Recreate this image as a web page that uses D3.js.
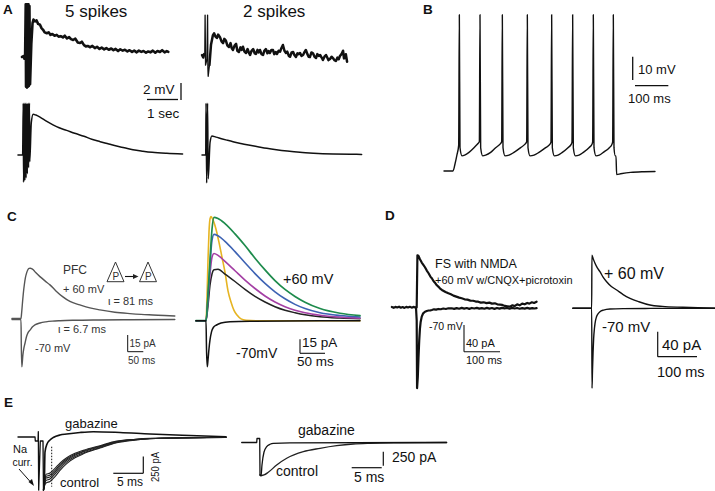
<!DOCTYPE html>
<html><head><meta charset="utf-8">
<script src="https://cdn.jsdelivr.net/npm/d3@7"></script>
<style>
html,body{margin:0;padding:0;background:#fff;}
svg{display:block;}
text{font-family:"Liberation Sans",Arial,Helvetica,sans-serif;fill:#111;}
</style>
</head><body>
<svg id="fig" width="715" height="491"></svg>
<script>
// ================= DATA =================
// Panel A: [time (s), voltage (mV)]
const a5Top = [[0,0],[0.05,0.1],[0.08,-0.2],[0.1,0],[0.12,6.2],[0.13,-3.5],[0.15,6.2],[0.16,-3.6],[0.18,6.2],[0.19,-3.5],[0.21,6.2],[0.22,-3.4],[0.24,6.0],[0.26,-3.2],
 [0.3,1.5],[0.34,4.0],[0.37,4.4],[0.42,4.2],[0.47,4.3],[0.52,3.9],[0.58,3.8],[0.63,3.4],[0.68,3.2],[0.73,2.9],[0.8,2.8],[0.86,2.9],[0.92,2.6],[0.98,2.7],[1.05,2.5],[1.12,2.6],[1.18,2.4],[1.25,2.45],[1.32,2.3],[1.38,2.5],[1.45,2.2],[1.52,2.35],[1.58,2.1],[1.65,2.0],[1.72,2.15],[1.8,1.7],[1.87,1.65],[1.93,1.8],[2.0,1.4],[2.06,1.25],[2.12,1.3],[2.2,1.15],[2.27,1.3],[2.35,1.05],[2.42,1.2],[2.5,0.95],[2.57,1.1],[2.65,0.9],[2.72,1.05],[2.8,0.85],[2.88,1.0],[2.95,0.8],[3.02,0.95],[3.1,0.7],[3.17,0.9],[3.25,0.75],[3.32,0.85],[3.4,0.65],[3.47,0.8],[3.55,0.6],[3.62,0.75],[3.7,0.55],[3.77,0.75],[3.85,0.6],[3.92,0.7],[4.0,0.5],[4.07,0.65],[4.15,0.55],[4.22,0.75],[4.3,0.5],[4.37,0.7],[4.45,0.6],[4.52,0.8],[4.6,0.55],[4.67,0.7],[4.72,0.6]];
const a2Top = [[0,0],[0.04,-0.3],[0.07,0.1],[0.09,0],[0.1,4.7],[0.115,-1.2],[0.16,-0.5],[0.18,4.7],[0.19,-1.5],[0.2,-2.5],[0.24,-1.2],[0.29,1.2],[0.35,2.3],[0.39,2.55],[0.43,2.2],[0.48,2.0],[0.52,2.4],[0.58,2.1],[0.63,1.6],[0.68,1.4],[0.72,1.9],[0.77,1.7],[0.82,1.1],[0.87,0.94],[0.92,1.4],[0.96,0.8],[1.0,0.6],[1.05,1.1],[1.1,1.3],[1.14,0.5],[1.19,0.35],[1.24,0.9],[1.28,0.6],[1.32,0.98],[1.37,0.4],[1.42,0.24],[1.47,0.7],[1.51,0.3],[1.55,0],[1.6,0.5],[1.65,0.7],[1.7,0.2],[1.74,0.12],[1.79,0.6],[1.83,0.3],[1.87,0.59],[1.92,0.1],[1.97,0],[2.01,0.5],[2.06,0.7],[2.11,0.2],[2.15,0.45],[2.19,0.24],[2.24,0.6],[2.29,0.59],[2.33,0.1],[2.38,0.35],[2.42,0.12],[2.47,0.5],[2.52,0.39],[2.56,0.8],[2.61,1.18],[2.66,0.5],[2.71,0.24],[2.75,0.4],[2.8,-0.1],[2.84,-0.2],[2.89,0.3],[2.94,0.35],[2.98,0.0],[3.03,-0.24],[3.08,0.2],[3.12,0.1],[3.16,0.24],[3.21,-0.1],[3.26,0],[3.3,0.3],[3.35,0.59],[3.4,0.1],[3.44,-0.2],[3.48,-0.24],[3.53,0.3],[3.58,0.2],[3.63,-0.2],[3.68,-0.35],[3.72,0.1],[3.77,-0.1],[3.81,0],[3.86,-0.3],[3.9,-0.59],[3.95,-0.2],[4.0,0],[4.04,-0.3],[4.08,-0.6],[4.13,-0.47],[4.18,-0.2],[4.23,-0.39],[4.27,-0.6],[4.32,-0.7],[4.37,-0.3],[4.41,-0.5],[4.45,-0.12],[4.5,0.1],[4.55,0.5],[4.58,-0.4],[4.61,-0.35],[4.64,0.1],[4.68,-0.79]];
const a5Model = [[-0.13,0],[0.02,0],[0.04,6.1],[0.05,-3.2],[0.08,6.1],[0.09,-3.0],[0.12,6.1],[0.13,-2.7],[0.16,6.1],[0.17,-2.2],[0.2,6.1],[0.21,-1.5],[0.24,6.1],[0.25,-0.8],[0.3,3.8],[0.36,4.8],[0.45,4.7],[0.58,4.45],[0.8,3.95],[1.0,3.55],[1.2,3.2],[1.44,2.9],[1.7,2.55],[2.0,2.2],[2.25,1.85],[2.52,1.57],[2.8,1.3],[3.05,1.05],[3.3,0.85],[3.58,0.62],[3.9,0.45],[4.2,0.32],[4.67,0.2],[5.18,0.12]];
const a2Model = [[0,0],[0.12,0],[0.13,6.1],[0.15,-3.3],[0.18,6.1],[0.2,-2.8],[0.26,1.5],[0.32,2.24],[0.45,2.1],[0.6,1.95],[0.8,1.75],[1.0,1.56],[1.25,1.36],[1.5,1.18],[1.8,0.98],[2.09,0.79],[2.4,0.62],[2.75,0.46],[3.16,0.31],[3.6,0.21],[4.23,0.12],[4.8,0.08],[5.15,0.07]];

// Panel B: spike train, time (ms) and membrane potential (mV)
const bTime = [0,27,33,39,44, 46,48,54,62,75,90,100,106, 108,110,116,125,140,155,168,173, 175,177,183,195,210,230,243,248, 250,252,258,270,285,305,318,321, 323,325,331,342,355,372,382,384, 386,388,394,405,418,435,444,446, 448,450,456,466,478,496,504,506, 508,510,514,516,518,530,560,600,633];
const bVolt = [-70,-70,-67,-63,-59,
 -3,-60,-63.5,-63.2,-62,-60,-58.5,-57.5,
 -3,-60,-63.5,-63.2,-62,-60,-58.5,-57.5,
 -3,-60,-63.5,-63.2,-62,-60,-58.5,-57.5,
 -3,-60,-63.5,-63.2,-62,-60,-58.5,-57.5,
 -3,-60,-63.5,-63.2,-62,-60,-58.5,-57.5,
 -3,-60,-63.5,-63.2,-62,-60,-58.5,-57.5,
 -3,-60,-63.5,-63.2,-62,-60,-58.5,-57.5,
 -3,-60,-63.5,-63.5,-71.5,-71.2,-70.6,-70.3,-70.2];

// Panel C left (PFC recording): [time (ms), current (pA)]
const cPfcPlus60 = [[-29,0],[0,0],[2,5],[5,15],[8,24],[11,31],[14,36.5],[18,41],[22,43.8],[26,45],[30,45.2],[34,44.8],[39.4,43.7],[48,41],[60.8,37.6],[76.8,33.8],[92.8,30.2],[112,24.8],[134.4,19.4],[156.8,15.3],[188.8,12.2],[220.8,9.5],[252.8,7.7],[300.8,5.6],[348.8,4.4],[385,3.7],[422.4,3.2],[460,2.7],[493,2.3]];
const cPfcMinus70 = [[-29,-1],[0,-1],[1,-25],[2.5,-43.4],[4,-40],[6,-33],[9,-27],[13,-22],[18,-16],[23,-12.5],[29,-10.4],[37,-7.5],[46,-5.5],[61,-4],[80,-3],[100,-2.4],[125,-2],[170,-1.6],[250,-1.3],[350,-1.1],[493,-0.9]];

// Panel C right (model): shared time (ms) and four +60 mV curves
const cModelTime = [-20,0,4,8,12,16,24,38,58,78,98,118,138,158,178,198,228,268,308];
const cGreen   = [0,0,28,65,98,110.8,109.5,104,93,80.5,67,54.5,43,33.5,26,19.8,13,8,5.5];
const cBlue    = [0,0,26,60,86,92.5,91,85,74,62,50.5,40,31,23.5,17.5,13,8.5,5.5,4];
const cMagenta = [0,0,22,50,68,72,70,63.5,53.5,43.5,34.5,26.5,20,15,11.3,8.5,5.8,3.8,2.8];
const cBlack   = [0,0,16,38,50,54.5,55,50,42,33.5,26,20,15,11.2,8.5,6.3,4.2,2.8,2];
const cYellowTime = [-20,0,2,4,6,8,10,14,20,26,32,38,44,50,56,62,70,80,100,308];
const cYellow     = [0,0,25,65,95,109,111.5,108,98,84,68,52,32,20,11,6,2,0.5,0,0];
const cMinus70Time = [-20,0,1,2.6,4,6,8,11,15,21,30,48,88,308];
const cMinus70     = [0,0,-30,-49.3,-42,-30,-20.6,-12,-7,-4.6,-2.5,-1,-0.5,0];

// Panel D left (FS with NMDA, recorded): [time (ms), current (pA)]
const dRecPlus60 = [[-69,0.5],[-64,-0.8],[-59,0.6],[-54,-0.3],[-49,0.9],[-44,-0.6],[-39,0.4],[-34,-0.9],[-29,0.7],[-24,-0.2],[-19,0.8],[-14,-0.5],[-9,0.6],[-4,-0.4],[0,0],[2,78],[5,77],[9,72],[14,67],[18,64],[23,60],[28,55],[33,51],[38,46],[42,43.5],[47,39],[52,36],[56,33],[60,31],[65,28],[70,26],[75,24.5],[80,23],[88,21],[95,19.5],[102,17.5],[110,16],[118,14.5],[125,13.5],[133,12],[141,11.5],[149,10],[157,9.8],[164,8.6],[171,8.4],[178,7],[186,7.5],[194,6.2],[202,7],[209,5.5],[217,6],[224,4.5],[231,4],[238,3.5],[245,2],[252,1.5],[259,0.9],[266,3],[272,1.8],[279,4.5],[286,3],[293,5.5],[300,4.5],[307,6.5],[313,5.5],[320,7.5],[326,6.5],[333,8.4]];
const dRecMinus70 = [[-2,0],[0,-20],[1,-121],[3,-105],[5,-75],[7,-50],[9,-32],[11,-22],[14,-14],[18,-9],[23,-6.6],[28,-5.5],[33,-4.8],[38,-4.5],[42,-4],[48,-3],[54,-3.5],[60,-2.5],[67,-2.9],[74,-1.8],[81,-2.5],[88,-1.5],[97,-1.5],[104,-2.4],[111,-1.2],[118,-2.1],[125,-0.9],[132,-2],[139,-1.1],[146,-2.3],[153,-1],[160,-1.8],[167,-0.8],[174,-2],[181,-1.2],[188,-2.2],[195,-0.9],[202,-1.9],[209,-1.1],[216,-2.3],[223,-1],[230,-2],[237,-0.8],[244,-1.7],[251,-1.1],[258,-2.2],[265,-0.9],[272,-1.8],[279,-1],[286,-2.1],[293,-1.2],[300,-1.9],[307,-0.9],[314,-2],[321,-1.2],[327,-1.8],[333,-1.3]];
// Panel D right (model)
const dModPlus60 = [[-48,0],[0,0],[0.5,85],[4,79],[8.4,72],[14,65],[21,58.6],[29,50],[38,42.6],[50,35],[63.6,29.3],[80,22],[97.5,16],[120,10.5],[148,5.3],[180,3],[232,1.6],[270,0.8],[314,0.3]];
const dModMinus70 = [[-48,0],[0,0],[0.8,-128],[2,-100],[3.5,-70],[5,-48],[7,-32],[8.5,-24],[12,-14],[16,-9],[21,-5.4],[30,-2.8],[46.6,-1.1],[80,-0.5],[150,-0.2],[314,0]];

// Panel E left (recorded): [time (ms), current (pA)]
const eRecPre = [[-4.17,0],[-1.33,0],[-1.28,-60],[-0.83,-60],[-0.78,80],[-0.72,-795],[-0.45,-60],[0,-60],[0.08,-795]];
const eRecGabazine = [[0.08,-795],[0.22,-720],[0.33,-225],[0.67,-105],[1.17,-45],[1.72,-7.5],[2.83,30],[3.95,45],[6.17,67.5],[8.38,79.5],[12.83,67.5],[17.83,45],[24.5,22.5],[30.5,4.5]];
const eCtrlTime = [0.08,0.22,0.5,1.17,2.0,2.83,3.95,5.33,6.72,9.5,12.28,15.33,17.83,24.5,30.5];
const eCtrl1 = [-795,-700,-560,-540,-470,-390,-310,-245,-200,-130,-62,-33,-19,-9,-3];
const eCtrl2 = [-795,-710,-590,-570,-500,-415,-330,-260,-212,-138,-68,-37,-22,-11,-4];
const eCtrl3 = [-795,-720,-615,-600,-525,-440,-348,-272,-222,-146,-72,-39,-23,-12,-4];
const eCtrl4 = [-795,-730,-650,-630,-555,-468,-372,-292,-238,-157,-80,-43,-25,-12,-5];
const eCtrl5 = [-795,-740,-690,-665,-592,-500,-398,-312,-252,-166,-86,-46,-27,-13,-5];
// Panel E right (model)
const eModPre = [[-3.05,0],[-0.55,0],[-0.5,71],[-0.05,71],[0,-580]];
const eModGabazine = [[0,-580],[0.17,-598],[0.33,-402],[0.67,-170],[1.12,-75],[1.67,-32],[2.22,-14],[5,-5],[31.1,0]];
const eModControl = [[0,-580],[0.28,-589],[0.67,-580],[1.38,-532],[2.78,-402],[4.45,-282],[7.22,-164],[10,-104],[12.78,-57],[15.55,-27],[18.33,-14],[23.3,-5],[31.1,0]];

// ================= DRAWING =================
const svg = d3.select('#fig');
const lin = d3.scaleLinear;

function trace(data, xs, ys, color, width, curve) {
  const line = d3.line().x(d => xs(d[0])).y(d => ys(d[1])).curve(curve || d3.curveLinear);
  svg.append('path').attr('d', line(data)).attr('fill', 'none')
    .attr('stroke', color).attr('stroke-width', width)
    .attr('stroke-linejoin', 'round').attr('stroke-linecap', 'round');
}
function seg(x1, y1, x2, y2, w, extra) {
  const l = svg.append('line').attr('x1', x1).attr('y1', y1).attr('x2', x2).attr('y2', y2)
    .attr('stroke', '#111').attr('stroke-width', w || 1.3);
  if (extra) extra(l);
  return l;
}
function label(txt, x, y, size, opt) {
  opt = opt || {};
  const t = svg.append('text').attr('x', x).attr('y', y).attr('font-size', size).text(txt);
  if (opt.bold) t.attr('font-weight', 'bold');
  if (opt.w) t.attr('textLength', opt.w).attr('lengthAdjust', 'spacingAndGlyphs');
  if (opt.rot) t.attr('transform', `rotate(${opt.rot},${x},${y})`);
  if (opt.fill) t.style('fill', opt.fill);
  return t;
}
const smooth = d3.curveMonotoneX;

// ---- Panel A ----
const xA5 = lin([0, 1], [22, 53]), xA2 = lin([0, 1], [202, 233]);
const yA5 = lin([0, 2], [57, 40]), yA2 = lin([0, 2], [55, 38]);
const yAm = lin([0, 2], [155, 138]);
trace(a5Top, xA5, yA5, '#111', 2.6);
// 2-spike recording: thin spikes, thick noisy trace
trace(a2Top.slice(0, 4), xA2, yA2, '#111', 2.5);
trace(a2Top.slice(3, 11), xA2, yA2, '#111', 1.3);
trace(a2Top.slice(10), xA2, yA2, '#111', 2.5);
trace(a5Model, xA5, yAm, '#111', 1.5, smooth);
trace(a2Model, xA2, yAm, '#111', 1.5, smooth);
// scale bar A: 2 mV, 1 sec
seg(181, 83, 181, 83 + (yA5(0) - yA5(2)), 1.3);
seg(147, 99.5, 147 + (xA5(1) - xA5(0)), 99.5, 1.3);
label('5 spikes', 65, 17, 17);
label('2 spikes', 243, 17, 17);
label('2 mV', 143, 94, 13.5);
label('1 sec', 147, 118, 13.5);

// ---- Panel B ----
const xB = lin([0, 100], [444, 477.33]);
const yB = lin([-70, -60], [171, 147.67]);
trace(d3.zip(bTime, bVolt), xB, yB, '#111', 1.4, smooth);
seg(632.7, 56.7, 632.7, 56.7 + (yB(-70) - yB(-60)), 1.3);
seg(635, 85.7, 635 + (xB(100) - xB(0)), 85.7, 1.3);
label('10 mV', 638, 74, 13);
label('100 ms', 628, 103, 13);

// ---- Panel C left ----
const xC1 = lin([0, 50], [21, 36.6]);
const yC1 = lin([0, 15], [318.5, 301.8]);
trace(cPfcPlus60, xC1, yC1, '#555', 1.4, smooth);
trace(cPfcMinus70, xC1, yC1, '#555', 1.4, smooth);
seg(127.7, 351.7, 127.7, 351.7 - (yC1(0) - yC1(15)), 1);
seg(127.7, 351.7, 127.7 + (xC1(50) - xC1(0)), 351.7, 1);
label('PFC', 63, 274, 12, {fill: '#333'});
label('+ 60 mV', 63, 293, 11, {fill: '#333'});
label('\u03b9 = 81 ms', 108, 305, 11, {fill: '#333'});
label('\u03b9 = 6.7 ms', 58, 333, 11, {fill: '#333'});
label('-70 mV', 35, 352, 11, {fill: '#333'});
label('15 pA', 129.5, 347, 10, {fill: '#333'});
label('50 ms', 128, 364, 10, {fill: '#333'});
// pyramidal cell icons
function tri(cx) {
  svg.append('polygon').attr('points', `${cx},262 ${cx - 8.5},281.7 ${cx + 8.5},281.7`)
    .attr('fill', 'none').attr('stroke', '#333').attr('stroke-width', 1);
  label('P', cx - 3, 279.5, 10, {fill: '#333'});
}
tri(115.5); tri(148);
seg(125, 276.5, 134, 276.5, 1.1);
svg.append('polygon').attr('points', '138.5,276.5 133,274 133,279').attr('fill', '#222');

// ---- Panel C right ----
const xC2 = lin([0, 50], [206, 231]);
const yC2 = lin([0, 15], [320.7, 306.7]);
trace(d3.zip(cYellowTime, cYellow), xC2, yC2, '#e6b422', 1.6, smooth);
trace(d3.zip(cModelTime, cBlack), xC2, yC2, '#222', 1.5, smooth);
trace(d3.zip(cModelTime, cMagenta), xC2, yC2, '#a43fa4', 1.6, smooth);
trace(d3.zip(cModelTime, cBlue), xC2, yC2, '#3d62b3', 1.6, smooth);
trace(d3.zip(cModelTime, cGreen), xC2, yC2, '#1e8b4c', 1.7, smooth);
trace(d3.zip(cMinus70Time, cMinus70), xC2, yC2, '#111', 1.5, smooth);
seg(300, 353.3, 300, 353.3 - (yC2(0) - yC2(15)), 1.1);
seg(300, 353.3, 300 + (xC2(50) - xC2(0)), 353.3, 1.1);
label('+60 mV', 283, 284, 14.5);
label('-70mV', 236, 358, 14);
label('15 pA', 302, 347, 13.5);
label('50 ms', 297, 366, 13.5);

// ---- Panel D left ----
const xD1 = lin([0, 100], [416.7, 452.7]);
const yD1 = lin([0, 40], [307.3, 280.6]);
trace(dRecPlus60, xD1, yD1, '#111', 2.2);
trace(dRecMinus70, xD1, yD1, '#111', 2.2);
seg(464, 351.7, 464, 351.7 - (yD1(0) - yD1(40)), 1.1);
seg(464, 351.7, 464 + (xD1(100) - xD1(0)), 351.7, 1.1);
label('FS with NMDA', 435, 267.5, 12.5);
label('+60 mV w/CNQX+picrotoxin', 435, 284, 11);
label('-70 mV', 429, 330, 10.5);
label('40 pA', 466, 347, 11);
label('100 ms', 466, 364, 11);

// ---- Panel D right ----
const xD2 = lin([0, 100], [591.7, 631]);
const yD2 = lin([0, 40], [308.3, 283.3]);
trace(dModPlus60, xD2, yD2, '#111', 1.4, smooth);
trace(dModMinus70, xD2, yD2, '#111', 1.4, smooth);
seg(657.7, 356.7, 657.7, 356.7 - (yD2(0) - yD2(40)), 1.2);
seg(657.7, 356.7, 657.7 + (xD2(100) - xD2(0)), 356.7, 1.2);
label('+ 60 mV', 604, 278.5, 16);
label('-70 mV', 602, 332, 15);
label('40 pA', 662, 350, 15);
label('100 ms', 657, 377, 14.5);

// ---- Panel E left ----
const xE1 = lin([0, 5], [43, 73]);
const yE1 = lin([0, 250], [437, 420.3]);
trace(eRecPre, xE1, yE1, '#111', 1.3);
[eCtrl1, eCtrl2, eCtrl3, eCtrl4, eCtrl5].forEach(s =>
  trace(d3.zip(eCtrlTime, s), xE1, yE1, '#222', 1.1, smooth));
trace(eRecGabazine, xE1, yE1, '#111', 1.6, smooth);
seg(51.7, 446.7, 51.7, 486.7, 1, l => l.attr('stroke-dasharray', '1.5,1.5'));
seg(113.3, 473.3, 113.3 + (xE1(5) - xE1(0)), 473.3, 1.2);
seg(143.3, 473.3, 143.3, 473.3 - (yE1(0) - yE1(250)), 1.2);
label('gabazine', 65, 428, 13);
label('control', 60, 487, 13);
label('Na', 13, 452.5, 11);
label('curr.', 12.5, 466, 11, {w: 20});
label('5 ms', 117, 486, 12);
label('250 pA', 159, 482, 11.5, {rot: -90, w: 30});
seg(19, 469, 31, 482.5, 1);
svg.append('polygon').attr('points', '34,486 28.5,482 32,479').attr('fill', '#111');

// ---- Panel E right ----
const xE2 = lin([0, 5], [260, 290]);
const yE2 = lin([0, 250], [442.5, 428.5]);
trace(eModPre, xE2, yE2, '#111', 1.3);
trace(eModControl, xE2, yE2, '#222', 1.3, smooth);
trace(eModGabazine, xE2, yE2, '#111', 1.3, smooth);
seg(351.7, 467.7, 351.7 + (xE2(5) - xE2(0)), 467.7, 1.2);
seg(383.3, 465.7, 383.3, 465.7 - (yE2(0) - yE2(250)), 1.2);
label('gabazine', 298, 435, 14);
label('control', 276, 476, 14);
label('250 pA', 392, 462, 14);
label('5 ms', 354, 482, 14);

// ---- panel letters ----
label('A', 3, 14, 13.5, {bold: true});
label('B', 423, 13.5, 13.5, {bold: true});
label('C', 7, 220.5, 13.5, {bold: true});
label('D', 385, 220, 13.5, {bold: true});
label('E', 4, 407, 13.5, {bold: true});
</script>
</body></html>
